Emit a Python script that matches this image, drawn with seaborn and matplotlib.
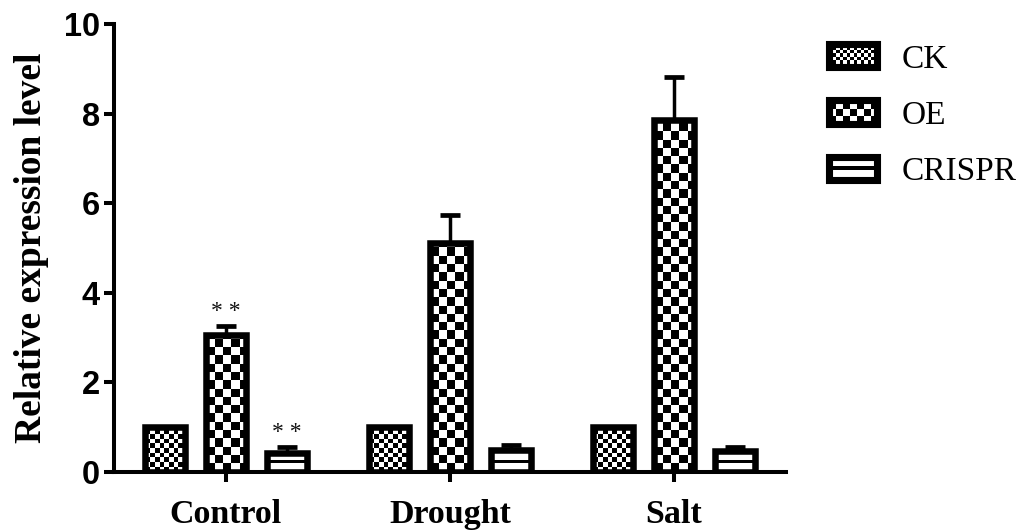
import numpy as np
import pandas as pd
import matplotlib
matplotlib.use("Agg")
import matplotlib.pyplot as plt
import seaborn as sns
from matplotlib.patches import Rectangle
from matplotlib.collections import PatchCollection
from matplotlib.legend_handler import HandlerBase

# ---------------- data ----------------
conditions = ["Control", "Drought", "Salt"]
genotypes = ["CK", "OE", "CRISPR"]
ck_mean = [1.0, 1.0, 1.0]
oe_mean = [3.05, 5.11, 7.85]
crispr_mean = [0.42, 0.49, 0.46]
ck_err = [0.0, 0.0, 0.0]
oe_err = [0.21, 0.63, 0.96]
crispr_err = [0.13, 0.11, 0.10]
ck_sig = ["", "", ""]
oe_sig = ["* *", "", ""]
crispr_sig = ["* *", "", ""]
y_ticks = [0, 2, 4, 6, 8, 10]
y_label = "Relative expression level"

means = {"CK": ck_mean, "OE": oe_mean, "CRISPR": crispr_mean}
errs = {"CK": ck_err, "OE": oe_err, "CRISPR": crispr_err}
sigs = {"CK": ck_sig, "OE": oe_sig, "CRISPR": crispr_sig}

df = pd.DataFrame(
    [(c, g, means[g][i]) for g in genotypes for i, c in enumerate(conditions)],
    columns=["condition", "genotype", "value"],
)

# ---------------- style ----------------
sns.set_style("ticks")
plt.rcParams["font.family"] = ["Liberation Serif", "DejaVu Serif"]
for key in ["text.color", "axes.labelcolor", "xtick.color", "ytick.color",
            "axes.edgecolor"]:
    plt.rcParams[key] = "black"

DPI = 100
fig = plt.figure(figsize=(10.35, 5.30), dpi=DPI)
ax = fig.add_axes([114 / 1035, 58 / 530, 672 / 1035, 448 / 530])

EDGE_LW = 4.7  # points
sns.barplot(
    data=df, x="condition", y="value", hue="genotype",
    order=conditions, hue_order=genotypes,
    palette=["white"] * 3, saturation=1,
    width=0.817, gap=0.335,
    edgecolor="black", linewidth=EDGE_LW,
    errorbar=None, legend=False, ax=ax,
)
ax.set_xlim(-0.5, 2.5)
ax.set_ylim(0, 10)

# texture definitions (pixel based)
textures = {
    "CK": ("checker", 4.7),
    "OE": ("checker", 8.3),
    "CRISPR": ("stripes", 12.0),
}


def texture(kind, wpx, hpx):
    style, size = textures[kind]
    iy, ix = np.mgrid[0:hpx, 0:wpx]
    if style == "checker":
        arr = ((np.floor(ix / size) + np.floor(iy / size)) % 2 == 0)
    else:
        arr = ((iy - 9) % size) < 2.5
    return arr.astype(float)


# apply textures and error bars per hue container
for g, cont in zip(genotypes, ax.containers):
    patches = sorted(cont.patches, key=lambda p: p.get_x())
    xc = []
    for p in patches:
        x0, w, h = p.get_x(), p.get_width(), p.get_height()
        (px0, py0), (px1, py1) = ax.transData.transform([(x0, 0), (x0 + w, h)])
        wpx = max(int(round(px1 - px0)), 1)
        hpx = max(int(round(py1 - py0)), 1)
        ax.imshow(texture(g, wpx, hpx), extent=(x0, x0 + w, 0, h), origin="lower",
                  cmap="gray_r", vmin=0, vmax=1, interpolation="nearest",
                  aspect="auto", zorder=p.get_zorder() - 0.05)
        p.set_facecolor("none")
        xc.append(x0 + w / 2)
    m = np.array(means[g])
    e = np.array(errs[g])
    mask = e > 0
    if mask.any():
        ax.errorbar(np.array(xc)[mask], m[mask],
                    yerr=[np.zeros(mask.sum()), e[mask]],
                    fmt="none", ecolor="black", elinewidth=2.5,
                    capsize=7.2, capthick=3.4, zorder=3)
    for x, mv, ev, s in zip(xc, m, e, sigs[g]):
        if s:
            ax.annotate(s, xy=(x, mv + ev), xytext=(0, 3), textcoords="offset points",
                        ha="center", va="bottom", fontsize=17, color="#111111")

ax.set_xlim(-0.5, 2.5)
ax.set_ylim(0, 10)
ax.set_yticks(y_ticks)
ax.set_xlabel("")
ax.set_ylabel(y_label, fontsize=27, fontweight="bold", family=["Liberation Serif"])
ax.yaxis.set_label_coords(-0.096, 0.5)

for side in ["top", "right"]:
    ax.spines[side].set_visible(False)
for side in ["left", "bottom"]:
    ax.spines[side].set_linewidth(2.9)
    ax.spines[side].set_color("black")

ax.tick_params(axis="both", direction="out", length=7.2, width=2.9, color="black",
               labelcolor="black")
ax.tick_params(axis="y", pad=3)
ax.tick_params(axis="x", pad=12)
for lab in ax.get_yticklabels():
    lab.set_family(["Liberation Sans"])
    lab.set_fontweight("bold")
    lab.set_fontsize(23.5)
for lab in ax.get_xticklabels():
    lab.set_family(["Liberation Serif"])
    lab.set_fontweight("bold")
    lab.set_fontsize(24.5)


# ---------------- legend with textured handles ----------------
class TextureHandler(HandlerBase):
    def __init__(self, kind):
        super().__init__()
        self.kind = kind

    def create_artists(self, legend, orig_handle, xdescent, ydescent,
                       width, height, fontsize, trans):
        x0, y0 = -xdescent, -ydescent
        pt = 72.0 / DPI
        rects = []
        style, size = textures[self.kind]
        if style == "checker":
            c = size * pt * (0.75 if self.kind == "CK" else 0.85)
            nx = int(np.ceil(width / c))
            ny = int(np.ceil(height / c))
            for j in range(ny):
                for i in range(nx):
                    if (i + j) % 2 == 0:
                        rx, ry = x0 + i * c, y0 + j * c
                        rects.append(Rectangle((rx, ry), min(c, x0 + width - rx),
                                               min(c, y0 + height - ry)))
        else:
            lh = 3.8 * pt
            rects.append(Rectangle((x0, y0 + height / 2 - lh / 2), width, lh))
        bg = Rectangle((x0, y0), width, height, facecolor="white", edgecolor="none",
                       transform=trans)
        pc = PatchCollection(rects, facecolor="black", edgecolor="none", transform=trans)
        frame = Rectangle((x0, y0), width, height, facecolor="none",
                          edgecolor="black", linewidth=EDGE_LW + 0.4, transform=trans)
        return [bg, pc, frame]


handles = [Rectangle((0, 0), 1, 1) for _ in genotypes]
leg = fig.legend(
    handles, genotypes,
    handler_map={h: TextureHandler(g) for h, g in zip(handles, genotypes)},
    loc="upper left", bbox_to_anchor=(829 / 1035, 1 - 44 / 530),
    frameon=False, borderpad=0, borderaxespad=0,
    handlelength=1.44, handleheight=0.69, handletextpad=0.75,
    labelspacing=0.77,
    prop={"family": ["Liberation Serif"], "size": 24},
)
for t in leg.get_texts():
    t.set_color("black")

fig.savefig("out.png", dpi=DPI)
